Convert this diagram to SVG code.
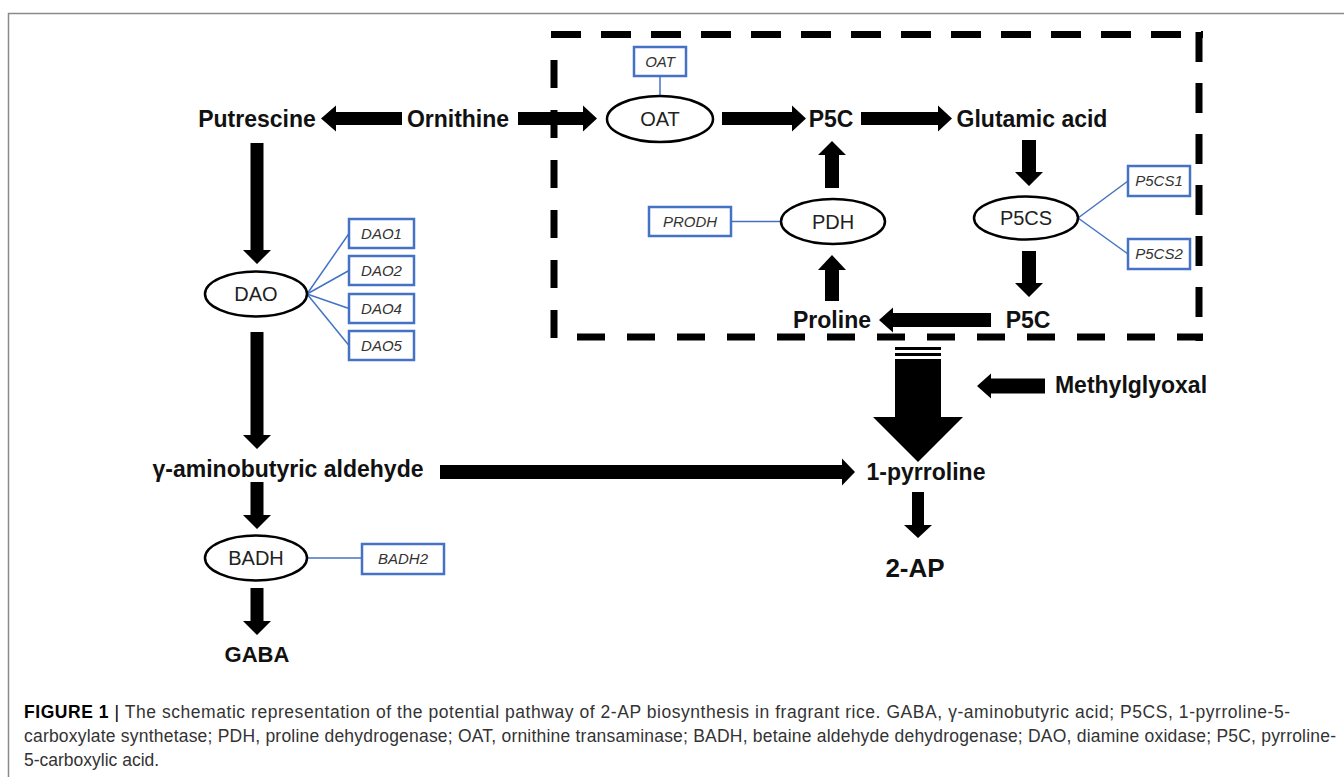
<svg xmlns="http://www.w3.org/2000/svg" width="1344" height="777" viewBox="0 0 1344 777">
<style>
.lbl{font-family:"Liberation Sans",Arial,sans-serif;font-weight:bold;font-size:23px;fill:#111;text-anchor:middle}
.enz{font-family:"Liberation Sans",Arial,sans-serif;font-size:20px;fill:#222;text-anchor:middle}
.gene{font-family:"Liberation Sans",Arial,sans-serif;font-style:italic;font-size:15px;fill:#333;text-anchor:middle}
.ell{fill:#fff;stroke:#000;stroke-width:2.5}
.box{fill:#fff;stroke:#4472C4;stroke-width:2.5}
.link{stroke:#4472C4;stroke-width:1.5;fill:none}
.arr{fill:#000}
.dash{stroke:#000;stroke-width:7;fill:none}
.cap{font-family:"Liberation Sans",Arial,sans-serif;font-size:17.5px;fill:#333}
</style>
<rect width="1344" height="777" fill="#fff"/>
<path d="M8.5 777 V13.5 H1344" fill="none" stroke="#8a8a8a" stroke-width="1.5"/>

<g id="region-box">
<line class="dash" x1="551" y1="34.5" x2="1203" y2="34.5" stroke-dasharray="30 20"/>
<line class="dash" x1="1199" y1="32" x2="1199" y2="341" stroke-dasharray="30 21"/>
<line class="dash" x1="554" y1="60" x2="554" y2="341" stroke-dasharray="28 22"/>
<line class="dash" x1="577" y1="337" x2="1203" y2="337" stroke-dasharray="28 22"/>
</g>

<g id="connectors">
<polygon class="arr" points="402,112 336,112 336,105.5 321,118.5 336,131.5 336,125 402,125"/>
<polygon class="arr" points="518,112 583,112 583,105.5 597,118.5 583,131.5 583,125 518,125"/>
<polygon class="arr" points="722,112 792,112 792,105.5 806,118.5 792,131.5 792,125 722,125"/>
<polygon class="arr" points="861,112 938,112 938,105.5 952,118.5 938,131.5 938,125 861,125"/>
<polygon class="arr" points="991,313 893,313 893,307.5 879,320 893,332.5 893,327 991,327"/>
<polygon class="arr" points="1045,378.5 991,378.5 991,373.5 977,386 991,398.5 991,393.5 1045,393.5"/>
<polygon class="arr" points="440,465 842,465 842,458.5 855,472 842,485.5 842,479 440,479"/>
<polygon class="arr" points="250.5,143 263.5,143 263.5,250 271,250 257,264 243,250 250.5,250"/>
<polygon class="arr" points="250.5,332 263.5,332 263.5,435 271,435 257,449 243,435 250.5,435"/>
<polygon class="arr" points="250.5,482 263.5,482 263.5,515 271,515 257,529 243,515 250.5,515"/>
<polygon class="arr" points="250.5,588 263.5,588 263.5,621 271,621 257,635 243,621 250.5,621"/>
<polygon class="arr" points="1022,140 1036,140 1036,172 1043,172 1029,186 1015,172 1022,172"/>
<polygon class="arr" points="1022,251 1036,251 1036,283 1043,283 1029,297 1015,283 1022,283"/>
<polygon class="arr" points="912,492 924,492 924,525 932,525 918,538 904,525 912,525"/>
<polygon class="arr" points="825,301 839,301 839,270 846,270 832,255 818,270 825,270"/>
<polygon class="arr" points="825,188 839,188 839,155 846,155 832,141 818,155 825,155"/>
<rect class="arr" x="895" y="347" width="46" height="3"/>
<rect class="arr" x="895" y="353" width="46" height="3"/>
<polygon class="arr" points="895,359 941,359 941,417 963,417 918,462 873,417 895,417"/>
<line class="link" x1="660" y1="76" x2="660" y2="96"/>
<line class="link" x1="731" y1="221.5" x2="781" y2="221.5"/>
<line class="link" x1="1078" y1="218" x2="1128" y2="181"/>
<line class="link" x1="1078" y1="218" x2="1128" y2="254"/>
<line class="link" x1="307" y1="294" x2="349" y2="233.5"/>
<line class="link" x1="307" y1="294" x2="349" y2="270.5"/>
<line class="link" x1="307" y1="294" x2="349" y2="308.5"/>
<line class="link" x1="307" y1="294" x2="349" y2="345.5"/>
<line class="link" x1="307" y1="558" x2="362" y2="558"/>
</g>

<g id="putrescine"><text class="lbl" x="257" y="127">Putrescine</text></g>
<g id="ornithine"><text class="lbl" x="458" y="127">Ornithine</text></g>
<g id="oat"><ellipse class="ell" cx="660" cy="119" rx="53" ry="23"/><text class="enz" x="660" y="126">OAT</text></g>
<g id="oat-gene"><rect class="box" x="634" y="47" width="52" height="29"/><text class="gene" x="660" y="67">OAT</text></g>
<g id="p5c-top"><text class="lbl" x="831" y="127">P5C</text></g>
<g id="glutamic"><text class="lbl" x="1032" y="127">Glutamic acid</text></g>
<g id="p5cs"><ellipse class="ell" cx="1026" cy="218" rx="52" ry="21.5"/><text class="enz" x="1026" y="225">P5CS</text></g>
<g id="p5cs1"><rect class="box" x="1128" y="166" width="62" height="30"/><text class="gene" x="1159" y="186">P5CS1</text></g>
<g id="p5cs2"><rect class="box" x="1128" y="239" width="62" height="30"/><text class="gene" x="1159" y="259">P5CS2</text></g>
<g id="pdh"><ellipse class="ell" cx="833" cy="221.5" rx="52" ry="22.5"/><text class="enz" x="833" y="229">PDH</text></g>
<g id="prodh"><rect class="box" x="649" y="207" width="82" height="29"/><text class="gene" x="690" y="227">PRODH</text></g>
<g id="p5c-bottom"><text class="lbl" x="1028" y="328">P5C</text></g>
<g id="proline"><text class="lbl" x="832" y="328">Proline</text></g>
<g id="dao"><ellipse class="ell" cx="256" cy="294" rx="51" ry="22.5"/><text class="enz" x="256" y="301">DAO</text></g>
<g id="dao1"><rect class="box" x="349" y="219" width="65" height="29"/><text class="gene" x="381.5" y="239">DAO1</text></g>
<g id="dao2"><rect class="box" x="349" y="256" width="65" height="29"/><text class="gene" x="381.5" y="276">DAO2</text></g>
<g id="dao4"><rect class="box" x="349" y="294" width="65" height="29"/><text class="gene" x="381.5" y="314">DAO4</text></g>
<g id="dao5"><rect class="box" x="349" y="331" width="65" height="29"/><text class="gene" x="381.5" y="351">DAO5</text></g>
<g id="gaba-ald"><text class="lbl" x="288" y="477">γ-aminobutyric aldehyde</text></g>
<g id="badh"><ellipse class="ell" cx="256" cy="558" rx="51" ry="22.5"/><text class="enz" x="256" y="565">BADH</text></g>
<g id="badh2"><rect class="box" x="362" y="544" width="82" height="30"/><text class="gene" x="403" y="564">BADH2</text></g>
<g id="gaba"><text class="lbl" x="257" y="662" style="font-size:22px">GABA</text></g>
<g id="methylglyoxal"><text class="lbl" x="1131" y="393">Methylglyoxal</text></g>
<g id="pyrroline"><text class="lbl" x="926" y="480">1-pyrroline</text></g>
<g id="ap"><text class="lbl" x="915" y="577" style="font-size:26px">2-AP</text></g>

<g id="caption">
<text class="cap" x="24" y="718" textLength="1266"><tspan font-weight="bold" fill="#000">FIGURE 1</tspan><tspan fill="#000"> | </tspan>The schematic representation of the potential pathway of 2-AP biosynthesis in fragrant rice. GABA, γ-aminobutyric acid; P5CS, 1-pyrroline-5-</text>
<text class="cap" x="24" y="742" textLength="1312">carboxylate synthetase; PDH, proline dehydrogenase; OAT, ornithine transaminase; BADH, betaine aldehyde dehydrogenase; DAO, diamine oxidase; P5C, pyrroline-</text>
<text class="cap" x="24" y="766">5-carboxylic acid.</text>
</g>
</svg>
